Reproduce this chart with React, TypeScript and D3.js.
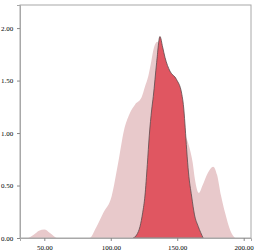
import React, { useEffect, useRef } from "react";
import * as d3 from "d3";

// background distribution (light pink)
const allX = [38, 42, 46, 50, 54, 57, 60, 84, 89, 94.4, 100.7, 105.6, 110, 114, 118.2, 123.2, 125.7, 128.2, 130, 132, 135, 138, 141, 145, 150, 155, 157, 160, 161.6, 163.3, 166.3, 169, 173, 177, 180, 183, 186, 190, 193.5];
const allY = [0, 0.03, 0.07, 0.08, 0.05, 0.02, 0, 0, 0.1, 0.24, 0.4, 0.72, 1.03, 1.18, 1.27, 1.34, 1.44, 1.54, 1.65, 1.79, 1.87, 1.8, 1.6, 1.4, 1.2, 1.0, 0.95, 0.82, 0.72, 0.56, 0.43, 0.5, 0.62, 0.68, 0.6, 0.4, 0.24, 0.07, 0];

// highlighted distribution (red)
const selX = [116.9, 119.5, 122, 124, 125.7, 127.5, 129, 130.75, 132, 134.5, 137, 139, 140.8, 144.5, 149.5, 153.3, 155, 156, 157.1, 158.5, 160.8, 163, 165.8, 169.5];
const selY = [0, 0.03, 0.11, 0.24, 0.4, 0.7, 0.98, 1.22, 1.35, 1.67, 1.92, 1.82, 1.72, 1.59, 1.51, 1.38, 1.22, 1.05, 0.84, 0.62, 0.4, 0.22, 0.11, 0];

const xTicks = [50, 100, 150, 200];
const yTicks = [0, 0.5, 1, 1.5, 2];

const App = () => {
  const ref = useRef<SVGSVGElement>(null);

  useEffect(() => {
    const svg = d3.select(ref.current);
    svg.selectAll("*").remove();

    const width = 259, height = 251;
    const margin = { top: 5, right: 8, bottom: 13, left: 20 };

    const x = d3.scaleLinear().domain([31.7, 205.5]).range([margin.left, width - margin.right]);
    const y = d3.scaleLinear().domain([0, 2.22]).range([height - margin.bottom, margin.top]);

    const area = d3
      .area<[number, number]>()
      .x(d => x(d[0]))
      .y0(y(0))
      .y1(d => y(d[1]))
      .curve(d3.curveMonotoneX);

    svg.append("path")
      .datum(allX.map((v, i) => [v, allY[i]] as [number, number]))
      .attr("d", area)
      .attr("fill", "#e8c9cb");

    svg.append("path")
      .datum(selX.map((v, i) => [v, selY[i]] as [number, number]))
      .attr("d", area)
      .attr("fill", "#e05661")
      .attr("stroke", "#5a4a4c")
      .attr("stroke-width", 0.8);

    // frame
    svg.append("rect")
      .attr("x", margin.left)
      .attr("y", margin.top)
      .attr("width", width - margin.left - margin.right)
      .attr("height", height - margin.top - margin.bottom)
      .attr("fill", "none")
      .attr("stroke", "#a8a8a8")
      .attr("stroke-width", 1);

    const xAxis = svg.append("g")
      .attr("transform", `translate(0,${height - margin.bottom})`)
      .call(d3.axisBottom(x).tickValues(xTicks).tickFormat(d3.format(".2f")).tickSize(3));

    const yAxis = svg.append("g")
      .attr("transform", `translate(${margin.left},0)`)
      .call(d3.axisLeft(y).tickValues(yTicks).tickFormat(d3.format(".2f")).tickSize(3));

    [xAxis, yAxis].forEach(g => {
      g.select(".domain").attr("stroke", "#a8a8a8");
      g.selectAll(".tick line").attr("stroke", "#888");
      g.selectAll("text")
        .attr("font-family", "'Liberation Serif', 'DejaVu Serif', serif")
        .attr("font-size", 7)
        .attr("fill", "#000");
    });
    xAxis.selectAll("text").attr("dy", "0.9em");
    yAxis.selectAll("text").attr("dx", "-0.1em");
  }, []);

  return <svg ref={ref} width={259} height={251} style={{ position: "absolute", left: 0, top: 0 }}></svg>;
};

export default App;
